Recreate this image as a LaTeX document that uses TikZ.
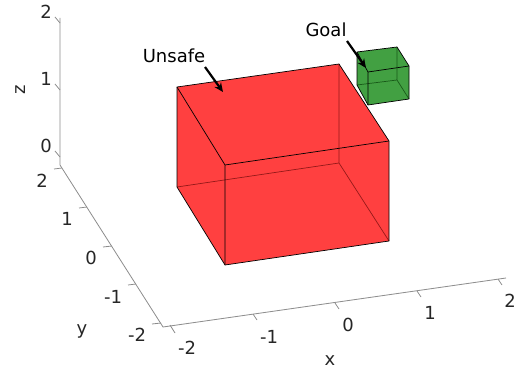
\documentclass[tikz,border=0pt]{standalone}
\usepackage{fontspec}
\setmainfont{DejaVu Sans}
\usetikzlibrary{arrows.meta}
\definecolor{axisgray}{gray}{0.15}
\definecolor{redfill}{RGB}{255,64,64}
\definecolor{greenfill}{RGB}{66,160,66}
\definecolor{redback}{RGB}{150,25,25}
\definecolor{greenback}{RGB}{25,90,25}
\tikzset{
  axisline/.style={draw=black!45,line width=0.8pt},
  ticklab/.style={font=\fontsize{18}{18}\selectfont,text=axisgray,inner sep=0pt},
  annot/.style={font=\fontsize{18}{18}\selectfont,text=black,inner sep=0pt},
  pointer/.style={draw=black,line width=2.2pt,-{Stealth[length=9pt,width=8pt]}},
  frontedge/.style={draw=black,line width=0.7pt,line join=round},
  redbackedge/.style={draw=redback,line width=0.7pt},
  greenbackedge/.style={draw=greenback,line width=0.7pt}
}
\begin{document}
\begin{tikzpicture}[x=1pt,y=-1pt]
\useasboundingbox (0,0) rectangle (521,371);
% axes
\draw[axisline] (60,18) -- (60,165) -- (163,327) -- (506,278);
% z ticks
\draw[axisline] (60,23) -- (55,17) (60,90) -- (55,84) (60,157) -- (55,151);
% y ticks
\draw[axisline] (62,168) -- (54,169) (87,207) -- (79,208) (112,246) -- (103,247) (136,284) -- (128,285) (161,323) -- (152,324);
% x ticks
\draw[axisline] (170,325) -- (175,333) (253,314) -- (257,320) (335,303) -- (339,309) (417,291) -- (421,297) (498,279) -- (502,285);
% tick labels
\node[ticklab] (z2) at (46,12) {2};
\node[ticklab] (z1) at (46,79) {1};
\node[ticklab] (z0) at (46,146) {0};
\node[ticklab,rotate=90] (zl) at (21,90) {z};
\node[ticklab] (y2) at (42,181) {2};
\node[ticklab] (y1) at (67,219) {1};
\node[ticklab] (y0) at (91,258) {0};
\node[ticklab] (ym1) at (113,297) {-1};
\node[ticklab] (ym2) at (137,335) {-2};
\node[ticklab] (yl) at (82,331) {y};
\node[ticklab] (xm2) at (187,348) {-2};
\node[ticklab] (xm1) at (269,337) {-1};
\node[ticklab] (x0) at (348,325) {0};
\node[ticklab] (x1) at (430,313) {1};
\node[ticklab] (x2) at (510,301) {2};
\node[ticklab] (xl) at (330,361) {x};
% green box
\fill[greenfill] (357,52) -- (397,47) -- (409,66) -- (409,99) -- (368,105) -- (357,85) -- cycle;
\draw[greenbackedge] (357,85) -- (397,80) -- (409,99) (397,80) -- (397,47);
\draw[frontedge] (357,52) -- (397,47) -- (409,66) -- (409,99) -- (368,105) -- (357,85) -- cycle;
\draw[frontedge] (357,52) -- (368,72) -- (409,66) (368,72) -- (368,105);
% red box
\fill[redfill] (177,87) -- (339,64) -- (389,141) -- (389,241) -- (225,265) -- (177,187) -- cycle;
\draw[redbackedge] (177,187) -- (339,163) -- (389,241) (339,163) -- (339,64);
\draw[frontedge] (177,87) -- (339,64) -- (389,141) -- (389,241) -- (225,265) -- (177,187) -- cycle;
\draw[frontedge] (177,87) -- (225,165) -- (389,141) (225,165) -- (225,265);
% annotations
\node[annot] (unsafe) at (174,56) {Unsafe};
\node[annot] (goal) at (326,30) {Goal};
\coordinate (unsafetip) at (223,92);
\coordinate (goaltip) at (366,68);
\coordinate (unsafestart) at (205,67);
\coordinate (goalstart) at (347,41);
\draw[pointer] (unsafestart) -- (unsafetip);
\draw[pointer] (goalstart) -- (goaltip);
\end{tikzpicture}
\end{document}
